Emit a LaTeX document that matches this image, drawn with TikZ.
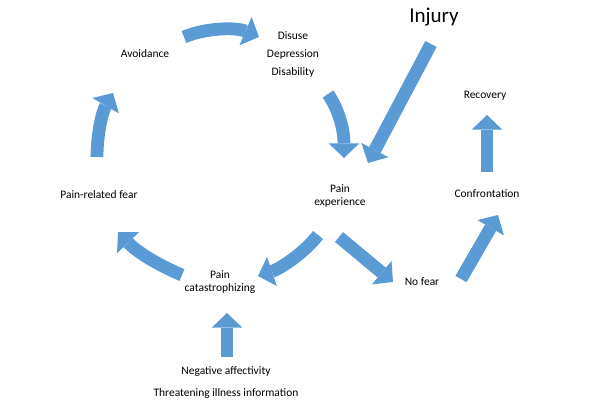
\documentclass[tikz,border=0pt]{standalone}
\usepackage{fontspec}
\setmainfont{Carlito}
\usetikzlibrary{arrows.meta}
\definecolor{officeblue}{RGB}{91,155,213}
\tikzset{
  txt/.style={font=\fontsize{8.6}{10}\selectfont, align=center, inner sep=1pt},
  blockarrow/.style={draw=officeblue, line width=9.6pt, -{Triangle[length=11pt,width=23pt,line width=0pt]}}
}
\begin{document}
\begin{tikzpicture}[x=0.75pt,y=-0.75pt]
\useasboundingbox (0,0) rectangle (600,404);
% texts
\node[txt] (avoid) at (145,54) {Avoidance};
\node[txt,font=\fontsize{8.6}{13.5}\selectfont] (disuse) at (293,54) {Disuse\\Depression\\Disability};
\node[txt,font=\fontsize{15.8}{18}\selectfont] (injury) at (434,17) {Injury};
\node[txt] (recovery) at (485,96) {Recovery};
\node[txt] (confront) at (487,194) {Confrontation};
\node[txt] (painexp) at (340,196) {Pain\\experience};
\node[txt] (catastro) at (220,282) {Pain\\catastrophizing};
\node[txt] (nofear) at (422,282) {No fear};
\node[txt] (fear) at (99,195) {Pain-related fear};
\node[txt,font=\fontsize{8.6}{16.5}\selectfont] (negaff) at (226,383) {Negative affectivity\\Threatening illness information};
% arrow ends
\coordinate (fearOut) at (97,157);      \coordinate (avoidIn) at (113,93);
\coordinate (avoidOut) at (184,37);     \coordinate (disuseIn) at (259,37);
\coordinate (disuseOut) at (328,94);    \coordinate (expIn) at (344,158);
\coordinate (injuryOut) at (431,44);    \coordinate (injuryIn) at (368,163);
\coordinate (confrontOut) at (487,172); \coordinate (recoveryIn) at (487,115);
\coordinate (nofearOut) at (461,279);   \coordinate (confrontIn) at (498,215);
\coordinate (expOutR) at (339,237);     \coordinate (nofearIn) at (393,282);
\coordinate (expOutL) at (318,235);     \coordinate (catastroIn) at (258,276);
\coordinate (catastroOut) at (182,275); \coordinate (fearIn) at (118,232);
\coordinate (negaffOut) at (227,357);   \coordinate (catastroInB) at (227,313);
% block arrows
\draw[blockarrow] (fearOut) .. controls (97,135) and (102,112) .. (avoidIn);
\draw[blockarrow] (avoidOut) .. controls (205,28) and (236,27) .. (disuseIn);
\draw[blockarrow] (disuseOut) .. controls (339,110) and (344,130) .. (expIn);
\draw[blockarrow] (injuryOut) -- (injuryIn);
\draw[blockarrow] (confrontOut) -- (recoveryIn);
\draw[blockarrow] (nofearOut) -- (confrontIn);
\draw[blockarrow] (expOutR) -- (nofearIn);
\draw[blockarrow] (expOutL) .. controls (306,251) and (282,268) .. (catastroIn);
\draw[blockarrow] (catastroOut) .. controls (165,268) and (140,255) .. (fearIn);
\draw[blockarrow] (negaffOut) -- (catastroInB);
\end{tikzpicture}
\end{document}
